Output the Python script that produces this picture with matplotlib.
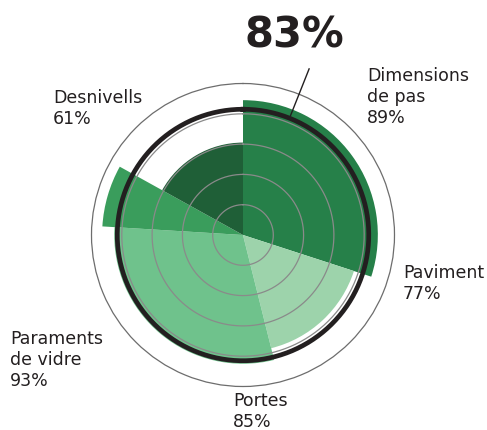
import numpy as np
import matplotlib.pyplot as plt

# sectors, clockwise from the top
categories = ["Dimensions\nde pas", "Paviment", "Portes", "Paraments\nde vidre", "Desnivells"]
values = [89, 77, 85, 93, 61]
spans_deg = [108, 58, 107.5, 25.5, 61]
colors = ["#268049", "#9dd3ab", "#6fc28c", "#3a9d5c", "#1f5f37"]

average = 83
grid_levels = [20, 40, 60, 80]

# label positions in figure pixels (left, top of text)
label_pos = [(367, 67), (403, 264), (233, 392), (10, 330), (53, 89)]

W, H = 487, 430
fig = plt.figure(figsize=(W / 100, H / 100), dpi=100)

cx, cy, R = 243, 235, 151.5
ax = fig.add_axes([(cx - R) / W, (H - cy - R) / H, 2 * R / W, 2 * R / H], projection="polar")
ax.set_theta_zero_location("N")
ax.set_theta_direction(-1)
ax.set_ylim(0, 100)

spans = np.radians(spans_deg)
starts = np.concatenate([[0], np.cumsum(spans)[:-1]])
ax.bar(starts, values, width=spans, align="edge", color=colors, linewidth=0, zorder=1)

# grid rings and average ring
t = np.linspace(0, 2 * np.pi, 400)
for g in grid_levels:
    ax.plot(t, np.full_like(t, g), color="#8a8a8a", lw=0.9, zorder=2)
ax.plot(t, np.full_like(t, average), color="#231f20", lw=3.4, zorder=3)

ax.set_xticks([])
ax.set_yticks([])
ax.grid(False)
ax.spines["polar"].set_color("#6d6d6d")
ax.spines["polar"].set_linewidth(0.9)

# pointer from the headline value to the average ring
ang = np.radians(21.7)
ax.plot([ang, ang], [average + 2, 118], color="#231f20", lw=1.0, clip_on=False, zorder=4)

fig.text(294 / W, 1 - 36 / H, f"{average}%", ha="center", va="center",
         fontsize=30, fontweight="bold", color="#231f20")

for name, v, (x, y) in zip(categories, values, label_pos):
    fig.text(x / W, 1 - y / H, f"{name}\n{v}%", ha="left", va="top",
             fontsize=12.5, color="#231f20", linespacing=1.2)

fig.savefig("out.png", dpi=100)
